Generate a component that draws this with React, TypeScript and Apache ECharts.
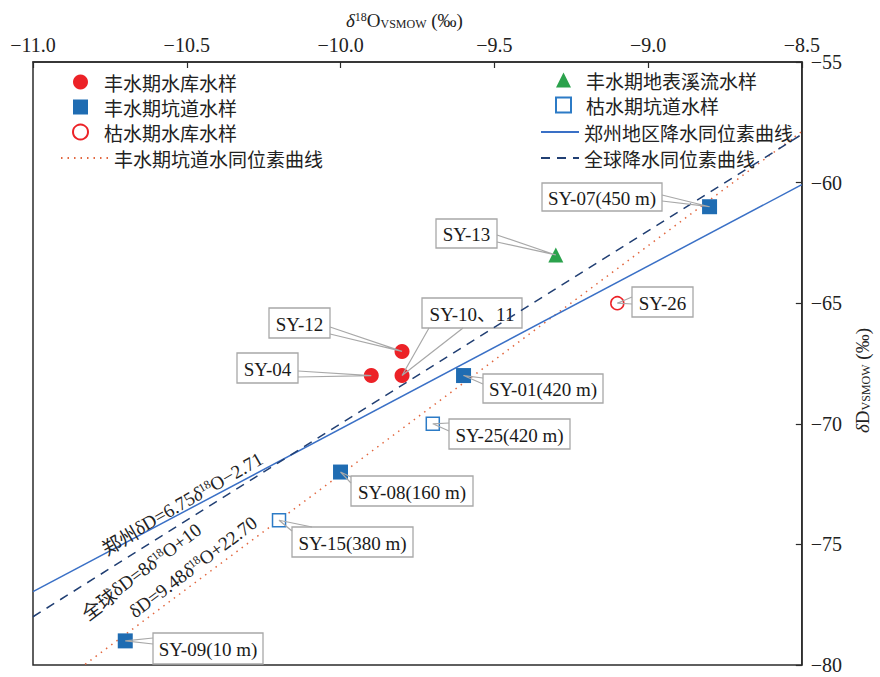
import React, { useEffect, useRef } from "react";
import * as echarts from "echarts";

const SERIF = "'Liberation Serif', 'Noto Sans CJK SC', serif";
const CJK = "'Noto Sans CJK SC', 'Liberation Serif', sans-serif";

// axes
const X_MIN = -11.0;
const X_MAX = -8.5;
const X_STEP = 0.5;
const Y_MIN = -80;
const Y_MAX = -55;
const Y_STEP = 5;

// series names
const N_WET_RES = "丰水期水库水样";
const N_WET_TUN = "丰水期坑道水样";
const N_DRY_RES = "枯水期水库水样";
const N_FIT = "丰水期坑道水同位素曲线";
const N_WET_STREAM = "丰水期地表溪流水样";
const N_DRY_TUN = "枯水期坑道水样";
const N_ZZ = "郑州地区降水同位素曲线";
const N_GLOBAL = "全球降水同位素曲线";

// samples [δ18O, δD]
const wetReservoir = [[-9.9, -68], [-9.8, -67], [-9.8, -68]]; // SY-04, SY-12, SY-10、11
const wetTunnel = [[-8.8, -61], [-9.6, -68], [-10.0, -72], [-10.7, -79]]; // SY-07, SY-01, SY-08, SY-09
const dryReservoir = [[-9.1, -65]]; // SY-26
const wetStream = [[-9.3, -63]]; // SY-13
const dryTunnel = [[-9.7, -70], [-10.2, -74]]; // SY-25, SY-15

// regression lines [slope, intercept]
const zhengzhouLine = [6.75, -2.71];
const globalLine = [8, 10];
const tunnelLine = [9.48, 22.7];

const lineXs = [X_MIN, X_MAX];
const linePoints = (l: number[]) => lineXs.map((x) => [x, l[0] * x + l[1]]);

// callout labels: text + which sample
const calloutTexts = [
  { text: "SY-07(450 m)", data: wetTunnel, i: 0 },
  { text: "SY-13", data: wetStream, i: 0 },
  { text: "SY-10、11", data: wetReservoir, i: 2 },
  { text: "SY-12", data: wetReservoir, i: 1 },
  { text: "SY-04", data: wetReservoir, i: 0 },
  { text: "SY-26", data: dryReservoir, i: 0 },
  { text: "SY-01(420 m)", data: wetTunnel, i: 1 },
  { text: "SY-25(420 m)", data: dryTunnel, i: 0 },
  { text: "SY-08(160 m)", data: wetTunnel, i: 2 },
  { text: "SY-15(380 m)", data: dryTunnel, i: 1 },
  { text: "SY-09(10 m)", data: wetTunnel, i: 3 },
];

// layout of callout boxes (pixels): [x, y, w, h], leader attach points
const calloutLayout: Record<string, { box: number[]; ends: number[][] }> = {
  "SY-07(450 m)": { box: [542, 183, 120, 28], ends: [[662, 195], [662, 201]] },
  "SY-13": { box: [436, 219, 61, 29], ends: [[497, 235], [497, 242]] },
  "SY-10、11": { box: [422, 298, 100, 30], ends: [[429, 328], [463, 328]] },
  "SY-12": { box: [269, 308, 61, 30], ends: [[330, 327], [330, 334]] },
  "SY-04": { box: [237, 353, 61, 30], ends: [[298, 371], [298, 377]] },
  "SY-26": { box: [632, 287, 61, 30], ends: [[632, 297], [632, 304]] },
  "SY-01(420 m)": { box: [483, 374, 120, 29], ends: [[483, 378], [483, 384]] },
  "SY-25(420 m)": { box: [449, 419, 121, 30], ends: [[449, 423], [449, 431]] },
  "SY-08(160 m)": { box: [351, 476, 122, 30], ends: [[351, 477], [351, 483]] },
  "SY-15(380 m)": { box: [292, 527, 121, 30], ends: [[292, 531], [312, 527]] },
  "SY-09(10 m)": { box: [153, 633, 110, 31], ends: [[153, 638], [153, 644]] },
};

// equation labels
const eqLabels = [
  { text: "{c|郑州}{n|δD=6.75}{it|δ}{sup|18}{n|O−2.71}", x: 182, y: 503, rot: 30 },
  { text: "{c|全球}{n|δD=8}{it|δ}{sup|18}{n|O+10}", x: 141, y: 571, rot: 37 },
  { text: "{n|δD=9.48}{it|δ}{sup|18}{n|O+22.70}", x: 193, y: 567, rot: 37 },
];

const C_RED = "#ec2227";
const C_BLUE = "#1f6cb2";
const C_GREEN = "#2ba24c";
const C_HBLUE = "#2c7bc6";
const C_LINE_BLUE = "#3a70c6";
const C_NAVY = "#213f73";
const C_ORANGE = "#e2673f";
const AXIS = "#2b2b2b";

const richBase = {
  n: { fontSize: 19, fontFamily: SERIF, color: "#222" },
  c: { fontSize: 19, fontFamily: CJK, color: "#222" },
  it: { fontSize: 19, fontFamily: SERIF, fontStyle: "italic", color: "#222" },
  sup: { fontSize: 12, fontFamily: SERIF, verticalAlign: "top", lineHeight: 12, color: "#222" },
  sub: { fontSize: 12, fontFamily: SERIF, verticalAlign: "bottom", lineHeight: 12, color: "#222" },
};

const minus = (s: string) => s.replace("-", "−");

const legendText = { fontSize: 19, color: "#222", fontFamily: CJK, lineHeight: 20 };

function buildOption() {
  return {
    animation: false,
    backgroundColor: "#fff",
    grid: {
      left: 33,
      right: 75,
      top: 62,
      bottom: 12,
      show: true,
      borderColor: AXIS,
      borderWidth: 1.5,
      containLabel: false,
    },
    legend: [
      {
        data: [N_WET_RES, N_WET_TUN, N_DRY_RES],
        orient: "vertical",
        left: 72,
        top: 72,
        padding: 0,
        itemWidth: 15,
        itemHeight: 15,
        itemGap: 5,
        selectedMode: false,
        textStyle: { ...legendText, padding: [0, 0, 0, 11] },
      },
      {
        data: [N_FIT],
        orient: "vertical",
        left: 60,
        top: 148,
        padding: 0,
        itemWidth: 48,
        itemHeight: 15,
        selectedMode: false,
        itemStyle: { opacity: 0 },
        textStyle: legendText,
      },
      {
        data: [N_WET_STREAM, N_DRY_TUN],
        orient: "vertical",
        left: 555,
        top: 70,
        padding: 0,
        itemWidth: 15,
        itemHeight: 15,
        itemGap: 5,
        selectedMode: false,
        textStyle: { ...legendText, padding: [0, 0, 0, 10] },
      },
      {
        data: [N_ZZ, N_GLOBAL],
        orient: "vertical",
        left: 540,
        top: 122,
        padding: 0,
        itemWidth: 38,
        itemHeight: 15,
        itemGap: 6,
        selectedMode: false,
        itemStyle: { opacity: 0 },
        textStyle: legendText,
      },
    ],
    xAxis: {
      type: "value",
      position: "top",
      min: X_MIN,
      max: X_MAX,
      interval: X_STEP,
      name: "{it|δ}{sup|18}{n|O}{sub|VSMOW}{n| (‰)}",
      nameLocation: "middle",
      nameGap: 32,
      nameTextStyle: {
        fontSize: 19,
        fontFamily: SERIF,
        color: "#222",
        rich: richBase,
        padding: [0, 26, 0, 0],
      },
      axisLine: { show: true, lineStyle: { color: AXIS, width: 1.5 } },
      axisTick: { show: true, inside: true, length: 6, lineStyle: { color: AXIS, width: 1.2 } },
      axisLabel: {
        fontSize: 20,
        fontFamily: SERIF,
        color: "#222",
        margin: 7,
        showMinLabel: true,
        showMaxLabel: true,
        formatter: (v: number) => minus(v.toFixed(1)),
      },
      splitLine: { show: false },
    },
    yAxis: {
      type: "value",
      position: "right",
      min: Y_MIN,
      max: Y_MAX,
      interval: Y_STEP,
      name: "{it|δ}{n|D}{sub|VSMOW}{n| (‰)}",
      nameLocation: "middle",
      nameRotate: 90,
      nameGap: 50,
      nameTextStyle: {
        fontSize: 19,
        fontFamily: SERIF,
        color: "#222",
        rich: richBase,
        padding: [0, 34, 0, 0],
      },
      axisLine: { show: true, lineStyle: { color: AXIS, width: 1.5 } },
      axisTick: { show: true, inside: true, length: 6, lineStyle: { color: AXIS, width: 1.2 } },
      axisLabel: {
        fontSize: 20,
        fontFamily: SERIF,
        color: "#222",
        margin: 9,
        showMinLabel: true,
        showMaxLabel: true,
        formatter: (v: number) => minus(String(v)),
      },
      splitLine: { show: false },
    },
    series: [
      {
        name: N_FIT,
        type: "line",
        data: linePoints(tunnelLine),
        symbol: "none",
        clip: true,
        z: 2,
        lineStyle: { color: C_ORANGE, width: 1.5, type: [1.5, 5] },
        itemStyle: { color: C_ORANGE },
      },
      {
        name: N_ZZ,
        type: "line",
        data: linePoints(zhengzhouLine),
        symbol: "none",
        clip: true,
        z: 2,
        lineStyle: { color: C_LINE_BLUE, width: 1.5, type: "solid" },
        itemStyle: { color: C_LINE_BLUE },
      },
      {
        name: N_GLOBAL,
        type: "line",
        data: linePoints(globalLine),
        symbol: "none",
        clip: true,
        z: 2,
        lineStyle: { color: C_NAVY, width: 1.5, type: [9, 7] },
        itemStyle: { color: C_NAVY },
      },
      {
        name: N_WET_RES,
        type: "scatter",
        data: wetReservoir,
        symbol: "circle",
        symbolSize: 15,
        z: 3,
        itemStyle: { color: C_RED, opacity: 1 },
      },
      {
        name: N_WET_TUN,
        type: "scatter",
        data: wetTunnel,
        symbol: "rect",
        symbolSize: 15,
        z: 3,
        itemStyle: { color: C_BLUE, opacity: 1 },
      },
      {
        name: N_DRY_RES,
        type: "scatter",
        data: dryReservoir,
        symbol: "circle",
        symbolSize: 13,
        z: 3,
        itemStyle: { color: "#fff", borderColor: C_RED, borderWidth: 1.5, opacity: 1 },
      },
      {
        name: N_WET_STREAM,
        type: "scatter",
        data: wetStream,
        symbol: "triangle",
        symbolSize: 15,
        z: 3,
        itemStyle: { color: C_GREEN, opacity: 1 },
      },
      {
        name: N_DRY_TUN,
        type: "scatter",
        data: dryTunnel,
        symbol: "rect",
        symbolSize: 13,
        z: 3,
        itemStyle: { color: "#fff", borderColor: C_HBLUE, borderWidth: 1.5, opacity: 1 },
      },
    ],
  };
}

export default function App() {
  const ref = useRef<HTMLDivElement>(null);
  useEffect(() => {
    if (!ref.current) return;
    const chart = echarts.init(ref.current, null, { renderer: "svg" });
    chart.setOption(buildOption() as any);

    const graphics: any[] = [];
    calloutTexts.forEach((c) => {
      const lay = calloutLayout[c.text];
      const p = chart.convertToPixel({ gridIndex: 0 }, c.data[c.i]) as number[];
      const [bx, by, bw, bh] = lay.box;
      graphics.push({
        type: "rect",
        shape: { x: bx, y: by, width: bw, height: bh },
        style: { fill: "#fff", stroke: "#a8a8a8", lineWidth: 1.3 },
        z: 1,
      });
      graphics.push({
        type: "text",
        x: bx + bw / 2,
        y: by + bh / 2 + 1,
        style: {
          text: c.text,
          fontSize: 19,
          fontFamily: SERIF,
          fill: "#1a1a1a",
          align: "center",
          verticalAlign: "middle",
        },
        z: 1,
      });
      graphics.push({
        type: "polyline",
        shape: { points: [lay.ends[0], [p[0], p[1]], lay.ends[1]] },
        style: { stroke: "#a8a8a8", fill: null, lineWidth: 1.2 },
        z: 4,
      });
    });
    eqLabels.forEach((e) => {
      graphics.push({
        type: "text",
        x: e.x,
        y: e.y,
        rotation: (e.rot * Math.PI) / 180,
        style: {
          text: e.text,
          rich: richBase,
          fontSize: 19,
          fontFamily: SERIF,
          fill: "#222",
          align: "center",
          verticalAlign: "middle",
        },
        z: 4,
      });
    });
    chart.setOption({ graphic: graphics });
    return () => chart.dispose();
  }, []);
  return (
    <div
      ref={ref}
      style={{ position: "fixed", left: 0, top: 0, width: 880, height: 677, background: "#fff" }}
    />
  );
}
